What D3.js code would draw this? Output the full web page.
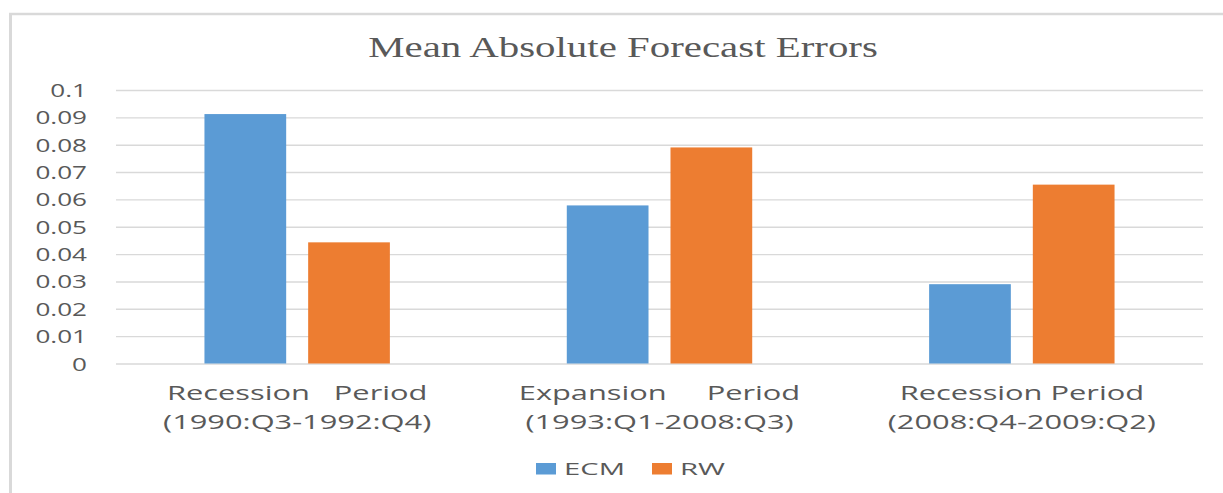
<!DOCTYPE html>
<html>
<head>
<meta charset="utf-8">
<script src="https://cdn.jsdelivr.net/npm/d3@7"></script>
<style>
  body { margin: 0; background: #fff; }
  text { fill: #595959; }
</style>
</head>
<body>
<div id="chart"></div>
<script>
// data
const categories = [
  ["Recession   Period", "(1990:Q3-1992:Q4)"],
  ["Expansion     Period", "(1993:Q1-2008:Q3)"],
  ["Recession Period", "(2008:Q4-2009:Q2)"]
];
const seriesNames = ["ECM", "RW"];
const ecmValues = [0.0912, 0.0578, 0.0290];
const rwValues = [0.0443, 0.0790, 0.0654];
const yTicks = [0, 0.01, 0.02, 0.03, 0.04, 0.05, 0.06, 0.07, 0.08, 0.09, 0.1];
const title = "Mean Absolute Forecast Errors";

const colors = { ECM: "#5b9bd5", RW: "#ed7d31" };
const width = 1223, height = 493;
const plot = { left: 116, right: 1203, top: 90, bottom: 363.5 };
const sans = "'Open Sans', sans-serif";

const svg = d3.select("#chart").append("svg")
  .attr("width", width)
  .attr("height", height);

/* border of the chart area */
svg.append("line")
  .attr("x1", 9).attr("x2", width).attr("y1", 14).attr("y2", 14)
  .attr("stroke", "#d9d9d9").attr("stroke-width", 2.5);
svg.append("line")
  .attr("x1", 10.5).attr("x2", 10.5).attr("y1", 13).attr("y2", height)
  .attr("stroke", "#d9d9d9").attr("stroke-width", 3);

/* Scale */
const x0 = d3.scaleBand()
  .domain(d3.range(categories.length))
  .range([plot.left, plot.right])
  .padding(0);

const x1 = d3.scaleBand()
  .domain(seriesNames)
  .range([0, x0.bandwidth()])
  .paddingInner(0.212)
  .paddingOuter(0.853);

const y = d3.scaleLinear()
  .domain([0, 0.1])
  .range([plot.bottom, plot.top]);

/* grid + y labels */
const yAxis = d3.axisLeft(y)
  .tickValues(yTicks)
  .tickSize(-(plot.right - plot.left))
  .tickPadding(0)
  .tickFormat(d => d === 0 ? "0" : String(+d.toFixed(2)));

const yg = svg.append("g")
  .attr("class", "y axis")
  .attr("transform", `translate(${plot.left},0)`)
  .call(yAxis);
yg.select(".domain").remove();
yg.selectAll(".tick line")
  .attr("stroke", "#d9d9d9")
  .attr("stroke-width", 1.4);
yg.selectAll(".tick text")
  .attr("x", null).attr("dy", null)
  .attr("transform", "translate(-29,6.5) scale(1.41,1)")
  .attr("text-anchor", "end")
  .style("font-family", sans)
  .style("font-size", "18.5px")
  .style("fill", "#595959");

/* bars */
const rows = categories.map((c, i) => ({ i, values: [
  { key: "ECM", value: ecmValues[i] },
  { key: "RW", value: rwValues[i] }
] }));

svg.append("g").selectAll("g")
  .data(rows).enter()
  .append("g")
  .attr("transform", d => `translate(${x0(d.i)},0)`)
  .selectAll("rect")
  .data(d => d.values).enter()
  .append("rect")
  .attr("x", d => x1(d.key))
  .attr("width", x1.bandwidth())
  .attr("y", d => y(d.value))
  .attr("height", d => y(0) - y(d.value))
  .attr("fill", d => colors[d.key]);

/* x labels */
const xl = svg.append("g").attr("class", "x axis");
categories.forEach((lines, i) => {
  const cx = x0(i) + x0.bandwidth() / 2;
  lines.forEach((t, j) => {
    xl.append("text")
      .attr("transform", `translate(${cx},${400 + j * 28.5}) scale(1.58,1)`)
      .attr("text-anchor", "middle")
      .style("white-space", "pre")
      .style("font-family", sans)
      .style("font-size", "19.5px")
      .text(t);
  });
});

/* title */
svg.append("text")
  .attr("transform", "translate(623,57) scale(1.41,1)")
  .attr("text-anchor", "middle")
  .style("font-family", "'Liberation Serif', 'Times New Roman', serif")
  .style("font-size", "29px")
  .text(title);

/* legend */
const legendX = [536, 652];
const legend = svg.append("g").attr("class", "legend");
seriesNames.forEach((name, i) => {
  legend.append("rect")
    .attr("x", legendX[i]).attr("y", 463)
    .attr("width", 20).attr("height", 11.5)
    .attr("fill", colors[name]);
  legend.append("text")
    .attr("transform", `translate(${legendX[i] + 28},475) scale(1.72,1)`)
    .style("font-family", sans)
    .style("font-size", "17px")
    .text(name);
});
</script>
</body>
</html>
